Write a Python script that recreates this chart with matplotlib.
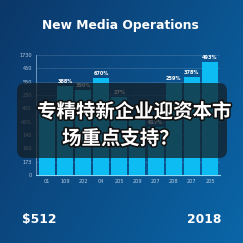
import numpy as np
import matplotlib
matplotlib.use("Agg")
import matplotlib.pyplot as plt
import matplotlib.patheffects as pe
from matplotlib.patches import FancyBboxPatch

# chart data (bar heights in axis units)
categories = ["01", "109", "202", "04", "205", "209", "207", "208", "207", "205"]
values = [4.6, 6.65, 6.4, 7.3, 5.85, 4.5, 3.6, 6.9, 7.35, 8.45]
# labels of bars 0 and 5 are hidden behind the headline in the picture
bar_labels = ["", "388%", "350%", "670%", "27%", "", "617%", "259%", "378%", "493%"]
ytick_labels = ["0", "173", "160", "140", "45%", "400", "230", "550", "450", "1730"]

title = "New Media Operations"
headline = ["专精特新企业迎资本市", "场重点支持？"]
left_note = "$512"
right_note = "2018"

fig = plt.figure(figsize=(2.43, 2.43), dpi=100)

# background gradient
bg = fig.add_axes([0, 0, 1, 1])
xx, yy = np.meshgrid(np.linspace(0, 1, 200), np.linspace(0, 1, 200))
t = np.clip(0.65 * xx + 0.35 * yy, 0, 1)
c0 = np.array([12, 55, 105]) / 255
c1 = np.array([10, 102, 168]) / 255
img = c0[None, None, :] * (1 - t[..., None]) + c1[None, None, :] * t[..., None]
bg.imshow(img, extent=[0, 1, 0, 1], origin="upper", aspect="auto")
bg.axis("off")

fig.text(0.495, 0.895, title, color="white", fontsize=8.8, fontweight="bold",
         ha="center", va="center", family="DejaVu Sans")

ax = fig.add_axes([0.148, 0.280, 0.757, 0.494])
ax.set_facecolor("none")
x = np.arange(len(categories))
ax.bar(x, values, width=0.88, color="#0cbcf2", zorder=3)
for xi, v, lab in zip(x, values, bar_labels):
    if lab:
        ax.text(xi, v + 0.15, lab, color="white", fontsize=3.6, ha="center", va="bottom",
                fontweight="bold", zorder=4)

ax.set_xlim(-0.6, 9.55)
ax.set_ylim(0, 9)
ax.set_yticks(range(10))
ax.set_yticklabels(ytick_labels)
ax.set_xticks(x)
ax.set_xticklabels(categories)
ax.tick_params(colors="#b8cde0", labelsize=3.6, length=0, pad=3)
ax.grid(axis="y", color="white", alpha=0.15, linewidth=0.6, zorder=0)
for s in ["top", "right"]:
    ax.spines[s].set_visible(False)
ax.spines["left"].set_color("#7fa6c8")
ax.spines["left"].set_linewidth(0.6)
ax.spines["bottom"].set_color("#8fd8f4")
ax.spines["bottom"].set_linewidth(0.8)

# dark caption overlay
ov = fig.add_axes([0, 0, 1, 1], zorder=5)
ov.set_xlim(0, 243)
ov.set_ylim(243, 0)
ov.axis("off")
ov.add_patch(FancyBboxPatch((17, 83), 210, 75, boxstyle="round,pad=0,rounding_size=8",
                            facecolor=(0.08, 0.11, 0.13), alpha=0.72, edgecolor="none"))
stroke = [pe.withStroke(linewidth=2.2, foreground="#101010")]
ov.text(37, 112, headline[0], color="white", fontsize=14, fontweight="bold",
        family=["Noto Sans CJK SC", "DejaVu Sans"], ha="left", va="center", path_effects=stroke)
ov.text(62, 139, headline[1], color="white", fontsize=14, fontweight="bold",
        family=["Noto Sans CJK SC", "DejaVu Sans"], ha="left", va="center", path_effects=stroke)

ov.text(22, 219, left_note, color="white", fontsize=8.8, fontweight="bold",
        ha="left", va="center", family="DejaVu Sans")
ov.text(221, 219, right_note, color="white", fontsize=8.8, fontweight="bold",
        ha="right", va="center", family="DejaVu Sans")

fig.savefig("out.png", dpi=100)
